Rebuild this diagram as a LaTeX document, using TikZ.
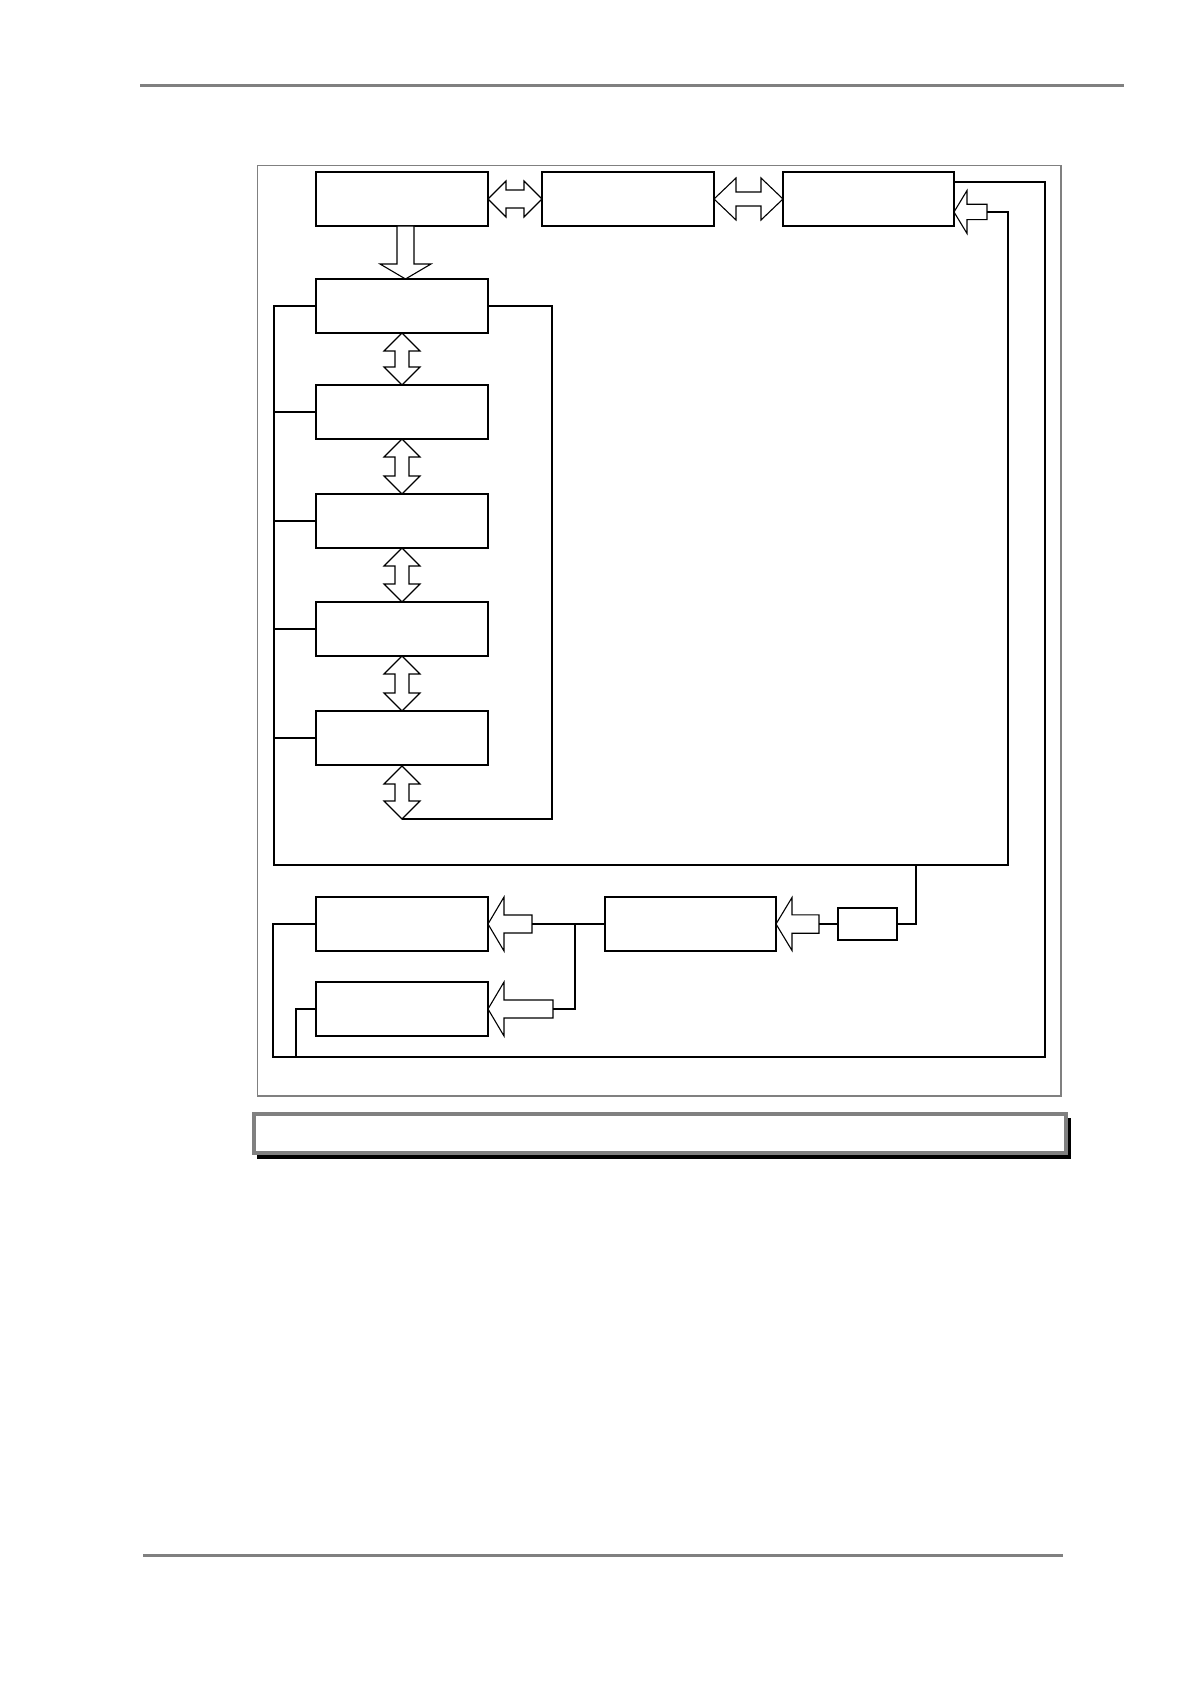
\documentclass[tikz,border=0pt]{standalone}
\usetikzlibrary{calc}
\definecolor{framegray}{RGB}{128,128,128}
\newcommand{\vdarr}[2]{\draw[blk] let \p1=(#1), \p2=(#2) in
 (\x1,\y1) -- (\x1-9pt,\y1-9pt) -- (\x1-3.5pt,\y1-9pt) -- (\x1-3.5pt,\y2+9pt) -- (\x1-9pt,\y2+9pt) -- (\x1,\y2)
 -- (\x1+9pt,\y2+9pt) -- (\x1+3.5pt,\y2+9pt) -- (\x1+3.5pt,\y1-9pt) -- (\x1+9pt,\y1-9pt) -- cycle;}
\newcommand{\hdarr}[5]{\draw[blk] let \p1=(#1), \p2=(#2) in
 (\x1,\y1) -- (\x1+#3,\y1+#4) -- (\x1+#3,\y1+#5) -- (\x2-#3,\y1+#5) -- (\x2-#3,\y1+#4) -- (\x2,\y1)
 -- (\x2-#3,\y1-#4) -- (\x2-#3,\y1-#5) -- (\x1+#3,\y1-#5) -- (\x1+#3,\y1-#4) -- cycle;}
\newcommand{\larr}[5]{\draw[blk] let \p1=(#1), \p2=(#2) in
 (\x1,\y1) -- (\x1+#3,\y1+#4) -- (\x1+#3,\y1+#5) -- (\x2,\y1+#5) -- (\x2,\y1-#5) -- (\x1+#3,\y1-#5) -- (\x1+#3,\y1-#4) -- cycle;}
\newcommand{\dnarr}[5]{\draw[blk] let \p1=(#1), \p2=(#2) in
 (\x1-#5,\y1) -- (\x1-#5,\y2+#3) -- (\x1-#4,\y2+#3) -- (\x1,\y2) -- (\x1+#4,\y2+#3) -- (\x1+#5,\y2+#3) -- (\x1+#5,\y1) -- cycle;}
\begin{document}
\begin{tikzpicture}[x=0.5pt,y=-0.5pt,
  box/.style={draw,line width=1pt,fill=white,rectangle,anchor=north west,inner sep=0pt,outer sep=0pt,minimum width=86pt,minimum height=27pt},
  smallbox/.style={box,minimum width=29.5pt,minimum height=16pt},
  ln/.style={line width=1pt},
  thinln/.style={line width=0.55pt},
  blk/.style={draw,line width=0.55pt,fill=white,line join=miter},
  rule/.style={draw=framegray,line width=1.5pt}]
\useasboundingbox (0,0) rectangle (1191,1684);
% page rules
\draw[rule] (140,85.3) -- (1124,85.3);
\draw[rule] (143,1555.3) -- (1062.7,1555.3);
% frame
\draw[draw=framegray,line width=0.65pt] (257.3,165.7) rectangle (1061,1096);
% caption bar
\fill[black] (257,1118) rectangle (1071,1159);
\draw[draw=framegray,fill=white,line width=2pt] (253.7,1114.3) rectangle (1065.7,1153.3);
% boxes
\node[box] (A) at (316,172) {};
\node[box] (B) at (542,172) {};
\node[box,minimum width=85.5pt] (C) at (783,172) {};
\node[box] (R1) at (316,279) {};
\node[box] (R2) at (316,385) {};
\node[box] (R3) at (316,494) {};
\node[box] (R4) at (316,602) {};
\node[box] (R5) at (316,711) {};
\node[box] (D) at (316,897) {};
\node[box] (E) at (316,982) {};
\node[box,minimum width=85.5pt] (F) at (605,897) {};
\node[smallbox] (G) at (838,908) {};
% helper coordinates
\coordinate (L) at (274,0);
\coordinate (r5t) at (402,766);
\coordinate (r5b) at (402,819);
\coordinate (ctip) at (954,212);
\coordinate (cT) at (987,212);
\coordinate (dT) at (532,924);
\coordinate (eT) at (553,1009);
\coordinate (fT) at (819,924);
\coordinate (aT) at ($(A.south)+(3.5,0)$);
\coordinate (aH) at ($(R1.north)+(3.5,0)$);
% block arrows
\hdarr{A.east}{B.west}{9pt}{9pt}{4.5pt}
\hdarr{B.east}{C.west}{11pt}{10.5pt}{3.5pt}
\dnarr{aT}{aH}{7.5pt}{12.75pt}{4.25pt}
\vdarr{R1.south}{R2.north}
\vdarr{R2.south}{R3.north}
\vdarr{R3.south}{R4.north}
\vdarr{R4.south}{R5.north}
\vdarr{r5t}{r5b}
\larr{ctip}{cT}{6.5pt}{10.75pt}{3.85pt}
\larr{D.east}{dT}{8pt}{13.5pt}{4.5pt}
\larr{E.east}{eT}{8pt}{13.5pt}{4.5pt}
\larr{F.east}{fT}{8pt}{13.25pt}{4.6pt}
% connectors
\draw[ln] ($(C.north east)+(0,10)$) -- (1045,182) -- (1045,1057) -- (273,1057) -- (273,924) -- (D.west);
\draw[ln] (296,1057) -- (296,1009) -- (E.west);
\draw[ln] (cT) -- (1008,212) -- (1008,865) -- (274,865) -- (274,306) -- (R1.west);
\draw[ln] (R2.west) -- (R2.west -| L);
\draw[ln] (R3.west) -- (R3.west -| L);
\draw[thinln] (R4.west) -- (R4.west -| L);
\draw[thinln] (R5.west) -- (R5.west -| L);
\draw[ln] (R1.east) -- (552,306) -- (552,819) -- (r5b);
\draw[ln] (916,865) -- (916,924) -- (G.east);
\draw[ln] (G.west) -- (fT);
\draw[ln] (F.west) -- (dT);
\draw[ln] (575,924) -- (575,1009) -- (eT);
\end{tikzpicture}
\end{document}
